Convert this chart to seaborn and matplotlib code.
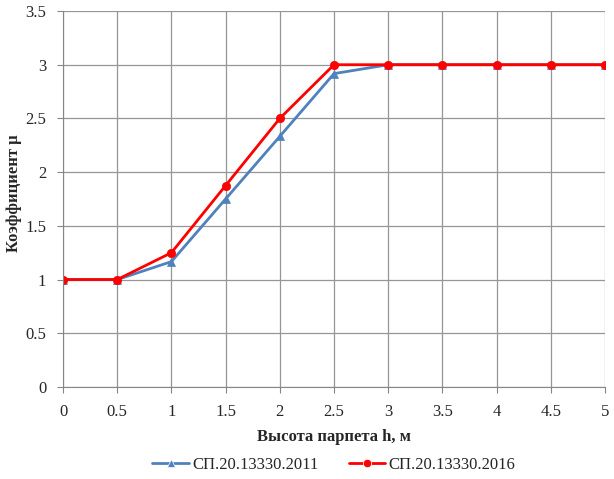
import matplotlib
matplotlib.use("Agg")
import matplotlib.pyplot as plt
import seaborn as sns
import pandas as pd

h = [0, 0.5, 1, 1.5, 2, 2.5, 3, 3.5, 4, 4.5, 5]
mu_2011 = [1, 1, 1.167, 1.75, 2.333, 2.917, 3, 3, 3, 3, 3]
mu_2016 = [1, 1, 1.25, 1.875, 2.5, 3, 3, 3, 3, 3, 3]
labels = ["СП.20.13330.2011", "СП.20.13330.2016"]

sns.set_style("white")
plt.rcParams['font.family'] = ['Liberation Serif', 'DejaVu Serif']

df = pd.concat([
    pd.DataFrame({"h": h, "mu": mu_2011, "s": labels[0]}),
    pd.DataFrame({"h": h, "mu": mu_2016, "s": labels[1]}),
])

fig = plt.figure(figsize=(6.14, 4.79), dpi=100)
ax = fig.add_axes([63/614, 1 - 387/479, (605 - 63)/614, (387 - 11)/479])

sns.lineplot(data=df, x="h", y="mu", hue="s", style="s",
             palette={labels[0]: "#4F81BD", labels[1]: "#FF0000"},
             markers={labels[0]: "^", labels[1]: "o"},
             dashes=False, linewidth=2, markersize=6, markeredgewidth=0.5,
             ax=ax, legend=True)
for line, c in zip(ax.get_lines()[:2], ["#4F81BD", "#FF0000"]):
    line.set_markeredgecolor(c)

ax.set_xlim(0, 5)
ax.set_ylim(0, 3.5)
ax.set_xticks(h)
ax.set_xticklabels(["0", "0.5", "1", "1.5", "2", "2.5", "3", "3.5", "4", "4.5", "5"])
ax.set_yticks([0, 0.5, 1, 1.5, 2, 2.5, 3, 3.5])
ax.set_yticklabels(["0", "0.5", "1", "1.5", "2", "2.5", "3", "3.5"])
ax.grid(True, color="#969696", linewidth=0.9)
ax.set_axisbelow(True)
for s in ["top", "right"]:
    ax.spines[s].set_visible(False)
for s in ["left", "bottom"]:
    ax.spines[s].set_color("#868686")
ax.tick_params(axis="both", labelsize=12, length=4, color="#868686", direction="out",
               left=True, bottom=True)
ax.tick_params(axis="x", pad=8)
ax.tick_params(axis="y", pad=8)
ax.set_xlabel("Высота парпета h, м", fontsize=12, fontweight="bold")
ax.set_ylabel("Коэффициент μ", fontsize=12, fontweight="bold")
ax.xaxis.set_label_coords(0.5, -0.133)
ax.yaxis.set_label_coords(-0.09, 0.515)
ax.xaxis.label.set_va("center")
ax.yaxis.label.set_va("center")

handles, lbls = ax.get_legend_handles_labels()
ax.legend(handles, lbls, loc="center", bbox_to_anchor=(0.5, -0.208), ncol=2,
          frameon=False, fontsize=12, handlelength=2.2, handletextpad=0.2,
          columnspacing=1.8, title=None)

fig.savefig("out.png", dpi=100)
